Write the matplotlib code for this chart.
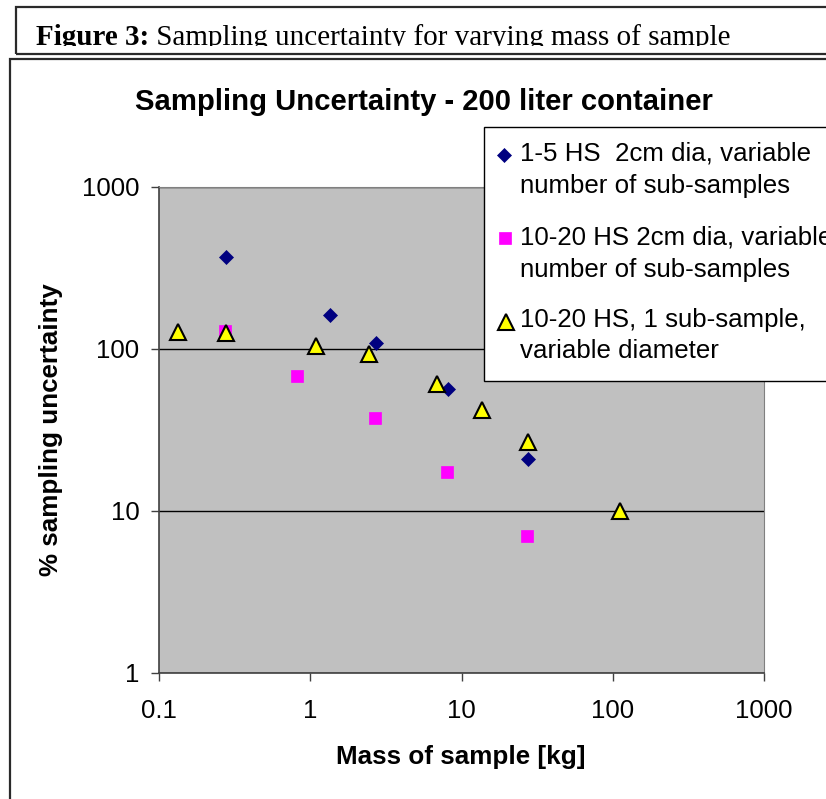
import matplotlib
matplotlib.use('Agg')
import matplotlib.pyplot as plt
from matplotlib.patches import Rectangle
from matplotlib.lines import Line2D
from matplotlib.ticker import FixedLocator, NullLocator, FixedFormatter
from matplotlib.transforms import Bbox, TransformedBbox

# ---------------- data ----------------
s1_mass = [0.277, 1.35, 2.72, 8.2, 27.4]
s1_unc = [370, 162, 109, 56.4, 20.9]

s2_mass = [0.273, 0.814, 2.68, 7.98, 27.0]
s2_unc = [129, 68, 37.5, 17.3, 7.0]

s3_mass = [0.133, 0.277, 1.087, 2.46, 6.92, 13.6, 27.4, 111]
s3_unc = [128, 125.6, 104, 92.7, 60.5, 42, 26.8, 10]

series_labels = [
    ["1-5 HS  2cm dia, variable", "number of sub-samples"],
    ["10-20 HS 2cm dia, variable", "number of sub-samples"],
    ["10-20 HS, 1 sub-sample,", "variable diameter"],
]
x_ticks = [0.1, 1, 10, 100, 1000]
x_ticklabels = ["0.1", "1", "10", "100", "1000"]
y_ticks = [1, 10, 100, 1000]
y_ticklabels = ["1", "10", "100", "1000"]

title = "Sampling Uncertainty - 200 liter container"
xlabel = "Mass of sample [kg]"
ylabel = "% sampling uncertainty"
caption_bold = "Figure 3:"
caption_rest = " Sampling uncertainty for varying mass of sample"

# ---------------- layout helpers ----------------
W, H = 826, 799
fig = plt.figure(figsize=(W / 100, H / 100), dpi=100)
fig.patch.set_facecolor('white')


def fx(px):
    return px / W


def fy(py):
    return 1 - py / H


SANS = ['Liberation Sans', 'DejaVu Sans']
SERIF = ['Liberation Serif', 'DejaVu Serif']

# frames
fig.add_artist(Rectangle((fx(15.5), fy(54)), fx(900) - fx(15.5), fy(7) - fy(54),
                         transform=fig.transFigure, facecolor='none',
                         edgecolor='#2a2a2a', lw=1.6))
fig.add_artist(Rectangle((fx(10), fy(900)), fx(900) - fx(10), fy(59) - fy(900),
                         transform=fig.transFigure, facecolor='none',
                         edgecolor='#2a2a2a', lw=1.6))

# caption (clipped at bottom like the reference)
clipbox = TransformedBbox(Bbox([[fx(16), fy(46)], [fx(900), fy(8)]]), fig.transFigure)
t1 = fig.text(fx(36), fy(45), caption_bold, family=SERIF, fontweight='bold',
              fontsize=21, va='baseline', ha='left')
t1.set_clip_box(clipbox)
t1.set_clip_on(True)
renderer = fig.canvas.get_renderer()
bb = t1.get_window_extent(renderer)
t2 = fig.text(bb.x1 / W, fy(45), caption_rest, family=SERIF,
              fontsize=21, va='baseline', ha='left')
t2.set_clip_box(clipbox)
t2.set_clip_on(True)

# ---------------- axes ----------------
ax = fig.add_axes([fx(159), fy(673), fx(764) - fx(159), fy(187) - fy(673)])
ax.set_xscale('log')
ax.set_yscale('log')
ax.set_xlim(0.1, 1000)
ax.set_ylim(1, 1000)
ax.set_facecolor('#C0C0C0')

ax.xaxis.set_major_locator(FixedLocator(x_ticks))
ax.xaxis.set_major_formatter(FixedFormatter(x_ticklabels))
ax.yaxis.set_major_locator(FixedLocator(y_ticks))
ax.yaxis.set_major_formatter(FixedFormatter(y_ticklabels))
ax.xaxis.set_minor_locator(NullLocator())
ax.yaxis.set_minor_locator(NullLocator())

ax.yaxis.grid(True, which='major', color='black', lw=1.0)
ax.set_axisbelow(True)

for side in ['left', 'bottom']:
    ax.spines[side].set_color('#404040')
    ax.spines[side].set_linewidth(1.2)
for side in ['top', 'right']:
    ax.spines[side].set_color('#808080')
    ax.spines[side].set_linewidth(0.8)

ax.tick_params(axis='both', direction='out', length=6, width=1.0, color='#404040',
               labelsize=18.5)
ax.tick_params(axis='x', pad=13)
ax.tick_params(axis='y', pad=8)
for lab in ax.get_xticklabels() + ax.get_yticklabels():
    lab.set_family(SANS)

# marker styles
DIA = dict(marker='D', markersize=7.0, markerfacecolor='#000080',
           markeredgecolor='#000080', markeredgewidth=0.5)
SQ = dict(marker='s', markersize=8.4, markerfacecolor='#FF00FF',
          markeredgecolor='#FF00FF', markeredgewidth=0.5)
TRI = dict(marker='^', markersize=11.3, markerfacecolor='#FFFF00',
           markeredgecolor='black', markeredgewidth=1.5)

# data
ax.plot(s1_mass, s1_unc, linestyle='none', clip_on=False, zorder=3, **DIA)
ax.plot(s2_mass, s2_unc, linestyle='none', clip_on=False, zorder=4, **SQ)
ax.plot(s3_mass, s3_unc, linestyle='none', clip_on=False, zorder=5, **TRI)

# titles / labels
fig.text(fx(423.5), fy(110), title, family=SANS, fontweight='bold', fontsize=21.1,
         ha='center', va='baseline')
fig.text(fx(461), fy(757), xlabel, family=SANS, fontweight='bold', fontsize=18.7,
         ha='center', va='center')
fig.text(fx(51), fy(430), ylabel, family=SANS, fontweight='bold', fontsize=18.7,
         ha='center', va='center', rotation=90)

# ---------------- legend (drawn like the reference) ----------------
fig.add_artist(Rectangle((fx(484), fy(381)), fx(900) - fx(484), fy(127) - fy(381),
                         transform=fig.transFigure, facecolor='white',
                         edgecolor='black', lw=1.0, zorder=10))
baselines = [[161, 193], [245, 277], [327, 358]]
marker_pos = [(504, 155), (505, 238), (506, 322)]
marker_styles = [DIA, SQ, TRI]
for lines, bls, (mx, my), ms in zip(series_labels, baselines, marker_pos, marker_styles):
    fig.add_artist(Line2D([fx(mx)], [fy(my)], transform=fig.transFigure,
                          linestyle='none', zorder=11, **ms))
    for line, bl in zip(lines, bls):
        fig.text(fx(520), fy(bl), line, family=SANS, fontsize=18.6,
                 ha='left', va='baseline', zorder=11)

fig.savefig('out.png', dpi=100)
